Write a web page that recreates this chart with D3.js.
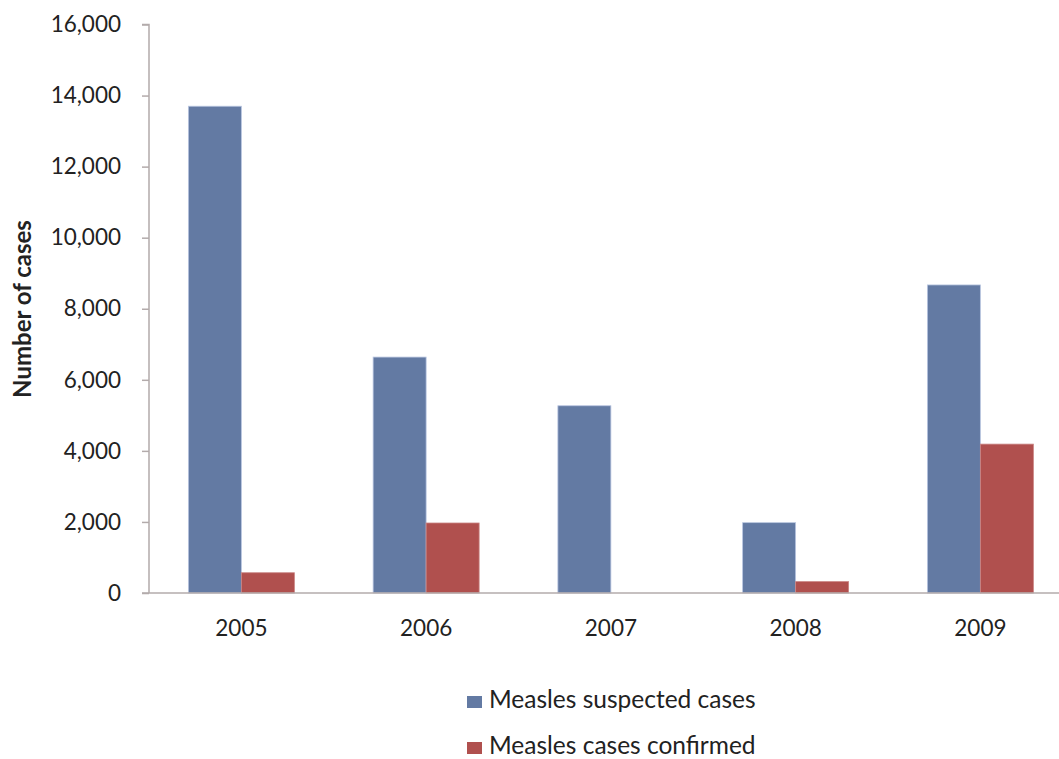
<!DOCTYPE html>
<html>
<head>
<meta charset="utf-8">
<script src="https://cdn.jsdelivr.net/npm/d3@7"></script>
<style>
  body { margin: 0; background: #fff; }
  text { font-family: Lato, "Open Sans", sans-serif; fill: #222; }
</style>
</head>
<body>
<div id="chart"></div>
<script>
// chart data
var years = ["2005", "2006", "2007", "2008", "2009"];
var suspected = [13700, 6640, 5270, 1980, 8670];
var confirmed = [570, 1970, 0, 320, 4190];
var seriesNames = ["Measles suspected cases", "Measles cases confirmed"];
var yTicks = [0, 2000, 4000, 6000, 8000, 10000, 12000, 14000, 16000];

// layout
var chartW = 1059, chartH = 759;
var plotLeft = 149, plotTop = 24.5, plotBottom = 593;
var bandWidth = 184.75;
var barColors = ["#637aa3", "#b0504e"];
var axisColor = "#b3abab";

var svg = d3.select("#chart")
    .append("svg")
    .attr("width", chartW)
    .attr("height", chartH);

var x = d3.scaleBand()
    .domain(years)
    .range([plotLeft, plotLeft + bandWidth * years.length])
    .paddingInner(0)
    .paddingOuter(0);

var y = d3.scaleLinear()
    .domain([0, 16000])
    .range([plotBottom, plotTop]);

var inner = d3.scaleBand()
    .domain([0, 1])
    .range([0, bandWidth])
    .paddingInner(0)
    .paddingOuter(0.743);

var rows = years.map(function(yr, i) {
    return { year: yr, values: [suspected[i], confirmed[i]] };
});

// bars
var groups = svg.append("g")
    .selectAll("g")
    .data(rows)
    .enter()
    .append("g")
    .attr("transform", function(d) { return "translate(" + x(d.year) + ",0)"; });

groups.selectAll("rect")
    .data(function(d) { return d.values.map(function(v, k) { return { k: k, v: v }; }).filter(function(d) { return d.v > 0; }); })
    .enter()
    .append("rect")
    .attr("x", function(d) { return inner(d.k); })
    .attr("y", function(d) { return y(d.v); })
    .attr("width", inner.bandwidth())
    .attr("height", function(d) { return plotBottom - y(d.v); })
    .style("fill", function(d) { return barColors[d.k]; })
    .style("stroke", function(d) { return d.k === 0 ? "#b9c6e0" : "#c98382"; })
    .style("stroke-width", 0.8);

// y axis
var yAxis = svg.append("g")
    .attr("transform", "translate(" + plotLeft + ",0)")
    .call(d3.axisLeft(y).tickValues(yTicks).tickSize(7).tickPadding(21).tickFormat(d3.format(",")));
yAxis.select(".domain").attr("d", "M-7," + plotTop + "H0V" + plotBottom).style("stroke", axisColor).style("stroke-width", 1.5);
yAxis.selectAll(".tick line").style("stroke", axisColor).style("stroke-width", 1.5);
yAxis.selectAll(".tick text").style("font-size", "22.5px").style("fill", "#222");

// x axis
var xAxis = svg.append("g")
    .attr("transform", "translate(0," + plotBottom + ")")
    .call(d3.axisBottom(x).tickSize(0).tickPadding(27));
xAxis.select(".domain").attr("d", "M" + (plotLeft - 7) + ",0H" + chartW).style("stroke", axisColor).style("stroke-width", 1.5);
xAxis.selectAll(".tick text").style("font-size", "22.5px").style("fill", "#222");

// axis title
svg.append("text")
    .attr("transform", "translate(31,309) rotate(-90)")
    .attr("text-anchor", "middle")
    .style("font-size", "24px")
    .style("font-weight", "bold")
    .text("Number of cases");

// legend
var legend = svg.append("g")
    .selectAll("g")
    .data(seriesNames)
    .enter()
    .append("g")
    .attr("transform", function(d, i) { return "translate(467," + (708 + i * 46) + ")"; });

legend.append("rect")
    .attr("x", 0)
    .attr("y", -12)
    .attr("width", 15)
    .attr("height", 12)
    .style("fill", function(d, i) { return barColors[i]; });

legend.append("text")
    .attr("x", 22)
    .attr("y", 0)
    .style("font-size", "24.5px")
    .text(function(d) { return d; });
</script>
</body>
</html>
